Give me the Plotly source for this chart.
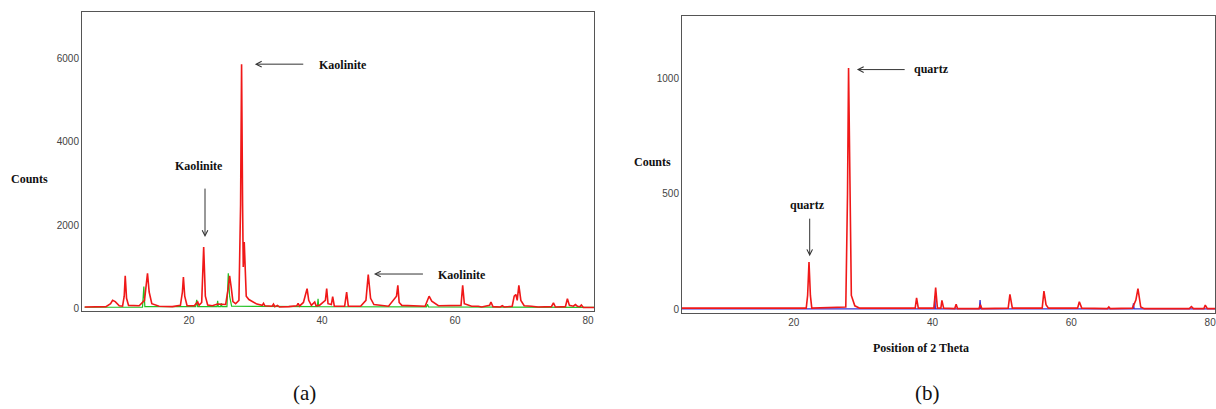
import plotly.graph_objects as go

# ---------------- Panel (a) data: vertices ----------------
a_red_x = [4.3, 7.5, 8.2, 8.5, 8.9, 9.5, 10.0, 10.25, 10.4, 10.6, 10.9, 12.5, 13.3, 13.6, 13.75, 14.0, 14.4,
           15.5, 17.5, 18.7, 19.0, 19.15, 19.35, 19.7, 20.8, 21.0, 21.3, 21.5, 21.9, 22.2, 22.45, 22.8, 23.5,
           24.3, 24.8, 25.5, 25.9, 26.1, 26.35, 26.6, 27.0, 27.5, 27.75, 27.9, 28.05, 28.15, 28.3, 28.45, 28.6,
           29.0, 29.5, 30.2, 31.0, 31.2, 31.4, 32.5, 32.7, 32.9, 33.3, 33.6, 35.0, 36.2, 36.4, 36.6, 37.2,
           37.75, 38.0, 38.4, 38.9, 39.1, 39.6, 40.5, 40.7, 40.9, 41.4, 41.6, 41.85, 43.4, 43.7, 43.95, 45.8,
           46.6, 46.95, 47.3, 47.8, 50.0, 51.2, 51.4, 51.6, 52.0, 55.5, 55.9, 56.1, 56.5, 57.0, 57.5, 60.9,
           61.15, 61.4, 62.5, 63.5, 64.0, 65.2, 65.4, 65.7, 66.8, 67.1, 67.4, 68.6, 68.9, 69.15, 69.35, 69.6,
           69.9, 70.4, 71.0, 71.5, 72.5, 74.5, 74.8, 75.1, 76.6, 76.9, 77.2, 77.8, 78.1, 78.4, 78.8, 79.0,
           79.3, 81.0]
a_red_y = [40, 50, 120, 200, 170, 70, 60, 300, 790, 250, 80, 70, 200, 600, 850, 400, 120,
           60, 50, 80, 400, 760, 300, 70, 70, 110, 160, 80, 150, 1480, 300, 90, 70,
           110, 100, 100, 500, 790, 500, 170, 120, 200, 2500, 5860, 2500, 1000, 1600, 1000, 300,
           220, 170, 110, 80, 130, 70, 60, 110, 50, 80, 40, 50, 70, 130, 60, 150,
           480, 200, 80, 160, 70, 80, 200, 480, 120, 100, 290, 60, 60, 400, 60, 60,
           200, 820, 250, 100, 60, 300, 560, 150, 80, 60, 200, 300, 180, 120, 70, 80,
           560, 120, 60, 60, 40, 80, 160, 50, 40, 70, 40, 60, 300, 340, 200, 560,
           200, 70, 70, 60, 40, 50, 140, 40, 50, 240, 80, 60, 100, 60, 50, 90,
           30, 30]

a_green_x = [4.3, 13.0, 13.2, 13.35, 21.0, 21.15, 21.3, 24.2, 24.3, 24.4, 24.75, 24.85, 24.95, 25.7, 25.9,
             26.1, 26.4, 39.3, 39.4, 39.5, 55.7, 55.85, 56.0, 81.0]
a_green_y = [35, 40, 530, 50, 50, 210, 50, 50, 190, 50, 50, 130, 50, 50, 850,
             300, 60, 50, 240, 50, 45, 110, 45, 30]

a_yticks = [0, 2000, 4000, 6000]
a_xticks = [20, 40, 60, 80]

# ---------------- Panel (b) data ----------------
b_red_x = [3.9, 21.8, 22.0, 22.2, 22.4, 22.6, 27.5, 27.75, 27.9, 28.1, 28.3, 28.8, 29.5, 37.5, 37.7, 37.95,
           40.2, 40.45, 40.7, 41.2, 41.35, 41.6, 43.2, 43.4, 43.6, 46.7, 46.9, 47.1, 50.9, 51.15, 51.5,
           55.8, 56.05, 56.35, 56.7, 60.9, 61.15, 61.5, 65.2, 65.4, 65.6, 68.8, 69.1, 69.3, 69.6, 70.0,
           70.5, 74.8, 77.0, 77.3, 77.6, 79.1, 79.3, 79.6, 81.0]
b_red_y = [5, 5, 60, 205, 60, 5, 10, 500, 1045, 400, 60, 15, 5, 5, 50, 5,
           5, 94, 5, 5, 39, 5, 3, 22, 3, 3, 20, 3, 5, 65, 5,
           5, 79, 20, 5, 5, 33, 5, 3, 10, 3, 5, 30, 40, 90, 10,
           3, 5, 3, 12, 3, 3, 18, 3, 3]

b_blue_x = [3.9, 40.25, 40.33, 40.41, 46.75, 46.85, 46.95, 68.85, 68.95, 69.05, 81.0]
b_blue_y = [2, 2, 55, 2, 2, 40, 2, 2, 26, 2, 2]

b_yticks = [0, 500, 1000]
b_xticks = [20, 40, 60, 80]

W, H = 1216, 409
def px(x):
    return x / W
def py(y):
    return 1 - y / H

RED = "#f01818"
GREEN = "#22c022"
BLUE = "#3a2fd0"
SERIF = "Liberation Serif"
SANS = "Liberation Sans"

fig = go.Figure()
fig.add_trace(go.Scatter(x=a_green_x, y=a_green_y, mode="lines", line=dict(color=GREEN, width=1.2),
                         xaxis="x", yaxis="y", showlegend=False, hoverinfo="skip"))
fig.add_trace(go.Scatter(x=a_red_x, y=a_red_y, mode="lines", line=dict(color=RED, width=1.6),
                         xaxis="x", yaxis="y", showlegend=False, hoverinfo="skip"))
fig.add_trace(go.Scatter(x=b_blue_x, y=b_blue_y, mode="lines", line=dict(color=BLUE, width=1.3),
                         xaxis="x2", yaxis="y2", showlegend=False, hoverinfo="skip"))
fig.add_trace(go.Scatter(x=b_red_x, y=b_red_y, mode="lines", line=dict(color=RED, width=1.6),
                         xaxis="x2", yaxis="y2", showlegend=False, hoverinfo="skip"))

axis_common = dict(showgrid=False, zeroline=False, showline=True, mirror=True, linecolor="#555555",
                   linewidth=1, ticks="", automargin=False, ticklabeloverflow="allow",
                   tickfont=dict(family=SANS, size=10, color="#444444"))

fig.update_layout(
    template="none",
    width=W, height=H, margin=dict(l=0, r=0, t=0, b=0, pad=0),
    paper_bgcolor="white", plot_bgcolor="white",
    xaxis=dict(domain=[px(82), px(594)], range=[3.9, 80.9], tickvals=a_xticks, anchor="y", **axis_common),
    yaxis=dict(domain=[py(311), py(12)], range=[-55, 7110], tickvals=a_yticks, anchor="x", **axis_common),
    xaxis2=dict(domain=[px(682), px(1215)], range=[3.9, 80.7], tickvals=b_xticks, anchor="y2", **axis_common),
    yaxis2=dict(domain=[py(313), py(16)], range=[-16, 1270], tickvals=b_yticks, anchor="x2", **axis_common),
)

lab = dict(family=SERIF, size=12, color="#111111")
arrow = dict(showarrow=True, arrowhead=5, arrowsize=1.1, arrowwidth=1, arrowcolor="#333333")

# Panel (a) annotations
a_peak_i = a_red_y.index(max(a_red_y))
fig.add_annotation(x=a_red_x[a_peak_i] + 2.0, y=a_red_y[a_peak_i], ax=37.4, ay=a_red_y[a_peak_i],
                   xref="x", yref="y", axref="x", ayref="y", text="", **arrow)
fig.add_annotation(x=43.1, y=5840, xref="x", yref="y", text="<b>Kaolinite</b>", showarrow=False, font=lab)
fig.add_annotation(x=22.4, y=1717, ax=22.4, ay=2914, xref="x", yref="y", axref="x", ayref="y", text="", **arrow)
fig.add_annotation(x=21.5, y=3418, xref="x", yref="y", text="<b>Kaolinite</b>", showarrow=False, font=lab)
fig.add_annotation(x=47.8, y=831, ax=55.4, ay=831, xref="x", yref="y", axref="x", ayref="y", text="", **arrow)
fig.add_annotation(x=61.0, y=808, xref="x", yref="y", text="<b>Kaolinite</b>", showarrow=False, font=lab)

# Panel (b) annotations
b_peak_i = b_red_y.index(max(b_red_y))
fig.add_annotation(x=b_red_x[b_peak_i] + 1.2, y=1038, ax=36.2, ay=1038,
                   xref="x2", yref="y2", axref="x2", ayref="y2", text="", **arrow)
fig.add_annotation(x=37.1, y=1042, xref="x2", yref="y2", text="<b>quartz</b>", showarrow=False, font=lab,
                   xanchor="left")
fig.add_annotation(x=22.3, y=230, ax=22.3, ay=399, xref="x2", yref="y2", axref="x2", ayref="y2", text="", **arrow)
fig.add_annotation(x=22.0, y=450, xref="x2", yref="y2", text="<b>quartz</b>", showarrow=False, font=lab)

# Axis titles and panel labels
paper = dict(xref="paper", yref="paper", showarrow=False, xanchor="center", yanchor="middle")
fig.add_annotation(x=px(29), y=py(179), text="<b>Counts</b>", font=lab, **paper)
fig.add_annotation(x=px(652), y=py(162), text="<b>Counts</b>", font=lab, **paper)
fig.add_annotation(x=px(921), y=py(348), text="<b>Position of 2 Theta</b>", font=lab, **paper)
fig.add_annotation(x=px(304), y=py(393), text="(a)", font=dict(family=SERIF, size=21, color="#111111"), **paper)
fig.add_annotation(x=px(927), y=py(393), text="(b)", font=dict(family=SERIF, size=21, color="#111111"), **paper)

fig.write_html("out.html", config={"displayModeBar": False},
               post_script="document.body.style.margin='0';document.body.style.overflow='hidden';")
